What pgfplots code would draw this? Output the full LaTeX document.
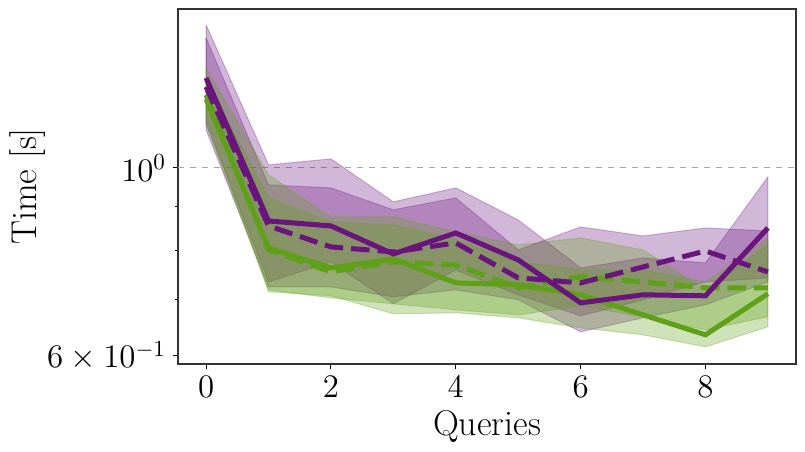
\RequirePackage{fix-cm}
\documentclass[border=0pt]{standalone}
\usepackage{pgfplots}
\pgfplotsset{compat=1.18}
\definecolor{pur}{RGB}{106,20,126}
\definecolor{grn}{RGB}{95,160,25}
\begin{document}
\begin{tikzpicture}
\useasboundingbox (-89bp,-44bp) rectangle (313.5bp,182bp);
\begin{axis}[
  scale only axis, width=309bp, height=177.5bp,
  anchor=south west, at={(0,0)},
  ymode=log,
  xmin=-0.45, xmax=9.45, ymin=0.587, ymax=1.540,
  xtick={0,2,4,6,8},
  ytick={0.6,1}, yticklabels={$6\times10^{-1}$,$10^{0}$},
  minor ytick={0.7,0.8,0.9},
  minor xtick={},
  xtick pos=bottom, ytick pos=left,
  tick align=outside,
  major tick length=2.5bp, minor tick length=1.6bp,
  tick style={black, line width=0.5bp},
  axis line style={black!80, line width=0.6bp},
  tick label style={font=\fontsize{16.5}{19}\selectfont},
  label style={font=\fontsize{18}{22}\selectfont},
  xlabel={Queries}, ylabel={Time [s]},
  xlabel style={at={(axis description cs:0.5,0)}, anchor=base, yshift=-35.5bp},
  ylabel style={at={(axis description cs:-0.2427,0.5)}, anchor=center},
  clip=true,
]
\addplot[gray!70, dashed, line width=0.4bp, forget plot] coordinates {(-0.45,1) (9.45,1)};
% bands (top forward, bottom backward)
\addplot[fill=pur, draw=pur, fill opacity=0.3, draw opacity=0.3, line width=0.5bp] coordinates {
(0,1.4749)(1,1.0082)(2,1.0248)(3,0.9119)(4,0.9471)(5,0.8682)(6,0.7621)(7,0.7831)(8,0.7726)(9,0.9758)
(9,0.7338)(8,0.6894)(7,0.6655)(6,0.6406)(5,0.6988)(4,0.7181)(3,0.7045)(2,0.7239)(1,0.7239)(0,1.1089)(0,1.4749)};
\addplot[fill=pur, draw=pur, fill opacity=0.3, draw opacity=0.3, line width=0.5bp] coordinates {
(0,1.4236)(1,0.9549)(2,0.9471)(3,0.8923)(4,0.9218)(5,0.8002)(6,0.8518)(7,0.8312)(8,0.8495)(9,0.8426)
(9,0.7418)(8,0.7338)(7,0.6988)(6,0.6691)(5,0.7084)(4,0.7580)(3,0.6913)(2,0.7747)(1,0.7338)(0,1.1301)(0,1.4236)};
\addplot[fill=grn, draw=grn, fill opacity=0.3, draw opacity=0.3, line width=0.5bp] coordinates {
(0,1.3122)(1,0.9812)(2,0.8753)(3,0.8753)(4,0.8403)(5,0.8111)(6,0.8267)(7,0.8002)(8,0.7181)(9,0.8111)
(9,0.6494)(8,0.6150)(7,0.6354)(6,0.6476)(5,0.6655)(4,0.6746)(3,0.6728)(2,0.7065)(1,0.7142)(0,1.1487)(0,1.3122)};
\addplot[fill=grn, draw=grn, fill opacity=0.3, draw opacity=0.3, line width=0.5bp] coordinates {
(0,1.2701)(1,0.9218)(2,0.8635)(3,0.8565)(4,0.8222)(5,0.7747)(6,0.7580)(7,0.7580)(8,0.7338)(9,0.8267)
(9,0.6673)(8,0.6441)(7,0.6673)(6,0.6875)(5,0.6709)(4,0.6801)(3,0.6913)(2,0.7026)(1,0.7181)(0,1.1240)(0,1.2701)};
% lines
\addplot[grn, line width=2.5bp, dash pattern=on 9.25bp off 4bp] coordinates {
(0,1.2194)(1,0.8002)(2,0.7539)(3,0.7747)(4,0.7684)(5,0.7220)(6,0.7438)(7,0.7338)(8,0.7220)(9,0.7220)};
\addplot[grn, line width=2.5bp] coordinates {
(0,1.2062)(1,0.8046)(2,0.7621)(3,0.7810)(4,0.7318)(5,0.7278)(6,0.7084)(7,0.6709)(8,0.6354)(9,0.7103)};
\addplot[pur, line width=2.5bp, dash pattern=on 9.25bp off 4bp] coordinates {
(0,1.2462)(1,0.8542)(2,0.8068)(3,0.7959)(4,0.8156)(5,0.7418)(6,0.7318)(7,0.7642)(8,0.7981)(9,0.7539)};
\addplot[pur, line width=2.5bp] coordinates {
(0,1.2770)(1,0.8658)(2,0.8542)(3,0.7916)(4,0.8380)(5,0.7789)(6,0.6931)(7,0.7084)(8,0.7065)(9,0.8495)};
\end{axis}
\end{tikzpicture}
\end{document}
